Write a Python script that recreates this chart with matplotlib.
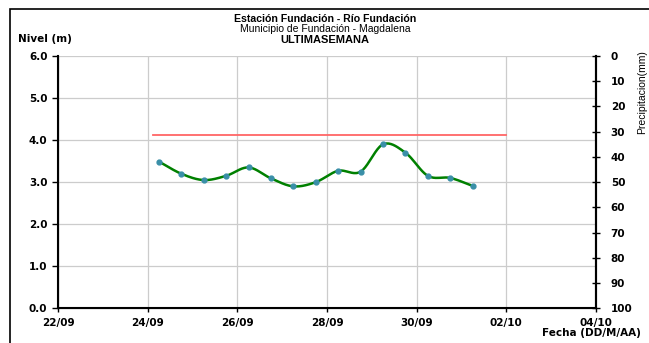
import numpy as np
import pandas as pd
import matplotlib
matplotlib.use('Agg')
import matplotlib.pyplot as plt
import matplotlib.dates as mdates
from matplotlib.patches import Rectangle

plt.rcParams['font.family'] = ['Liberation Sans', 'DejaVu Sans']

# lecturas de nivel (cada 12 h)
fechas = ['2020-09-24 06:00', '2020-09-24 18:00', '2020-09-25 06:00', '2020-09-25 18:00',
          '2020-09-26 06:00', '2020-09-26 18:00', '2020-09-27 06:00', '2020-09-27 18:00',
          '2020-09-28 06:00', '2020-09-28 18:00', '2020-09-29 06:00', '2020-09-29 18:00',
          '2020-09-30 06:00', '2020-09-30 18:00', '2020-10-01 06:00']
nivel = [3.49, 3.20, 3.05, 3.15, 3.35, 3.09, 2.90, 3.00, 3.27, 3.25, 3.90, 3.70, 3.15, 3.10, 2.91]

# nivel de alerta
alerta_fechas = ['2020-09-24 03:00', '2020-10-02 00:00']
alerta = [4.11, 4.11]

x_ticks = ['2020-09-22', '2020-09-24', '2020-09-26', '2020-09-28', '2020-09-30', '2020-10-02', '2020-10-04']
x_labels = ['22/09', '24/09', '26/09', '28/09', '30/09', '02/10', '04/10']
y_ticks = [0.0, 1.0, 2.0, 3.0, 4.0, 5.0, 6.0]
precip_ticks = [0, 10, 20, 30, 40, 50, 60, 70, 80, 90, 100]


def suavizar(x, y, n=20):
    # curva tipo Catmull-Rom, como la linea suavizada de Excel
    x = np.asarray(x, float)
    y = np.asarray(y, float)
    px = np.concatenate([[2 * x[0] - x[1]], x, [2 * x[-1] - x[-2]]])
    py = np.concatenate([[2 * y[0] - y[1]], y, [2 * y[-1] - y[-2]]])
    xs, ys = [], []
    t = np.linspace(0, 1, n, endpoint=False)
    for i in range(1, len(px) - 2):
        for p, out in ((px, xs), (py, ys)):
            p0, p1, p2, p3 = p[i - 1], p[i], p[i + 1], p[i + 2]
            out.extend(0.5 * (2 * p1 + (-p0 + p2) * t + (2 * p0 - 5 * p1 + 4 * p2 - p3) * t ** 2
                              + (-p0 + 3 * p1 - 3 * p2 + p3) * t ** 3))
    xs.append(x[-1])
    ys.append(y[-1])
    return np.array(xs), np.array(ys)


xd = mdates.date2num(pd.to_datetime(fechas))
xa = mdates.date2num(pd.to_datetime(alerta_fechas))
xt = mdates.date2num(pd.to_datetime(x_ticks))

bold = dict(family='DejaVu Sans', fontweight='bold', fontsize=7.5)

fig = plt.figure(figsize=(6.49, 3.43), dpi=100)
fig.patches.append(Rectangle((10 / 649, -0.1), 1.2, (343 - 9) / 343 + 0.1, transform=fig.transFigure,
                             fill=False, edgecolor='black', linewidth=1.2))
ax = fig.add_axes([58 / 649, (343 - 308.3) / 343, (596 - 58) / 649, (308.3 - 56) / 343])

ax.plot(xa, alerta, color='#ff6666', linewidth=1.3, zorder=3)
sx, sy = suavizar(xd, nivel)
ax.plot(sx, sy, color='#008000', linewidth=1.8, zorder=4)
ax.plot(xd, nivel, linestyle='none', marker='o', markersize=3.5, color='#3a8fa8', zorder=5)

ax.set_xlim(xt[0], xt[-1])
ax.set_ylim(0, 6)
ax.set_xticks(xt)
ax.set_xticklabels(x_labels, **bold)
ax.set_yticks(y_ticks)
ax.set_yticklabels(['%.1f' % v for v in y_ticks], **bold)
ax.grid(True, color='#cccccc', linewidth=0.9)
ax.set_axisbelow(True)
ax.tick_params(axis='x', length=3, width=1, pad=4.3)
ax.tick_params(axis='y', length=4, width=1, pad=3.6)
ax.spines['top'].set_visible(False)
ax.spines['left'].set_linewidth(1.5)
ax.spines['bottom'].set_linewidth(1.5)
ax.spines['right'].set_linewidth(1.5)

ax2 = ax.twinx()
ax2.set_ylim(100, 0)
ax2.set_yticks(precip_ticks)
ax2.set_yticklabels([str(v) for v in precip_ticks], **bold)
ax2.tick_params(axis='y', direction='inout', length=6, width=1, pad=7.6)
ax2.spines['top'].set_visible(False)
ax2.spines['right'].set_linewidth(1.5)

fig.text(325 / 649, 1 - 18.5 / 343, 'Estación Fundación - Río Fundación', ha='center', va='center',
         fontsize=7.6, fontweight='bold')
fig.text(325 / 649, 1 - 29.5 / 343, 'Municipio de Fundación - Magdalena', ha='center', va='center',
         fontsize=7.5)
fig.text(325 / 649, 1 - 40 / 343, 'ULTIMASEMANA', ha='center', va='center', fontsize=8, fontweight='bold')
fig.text(18 / 649, 1 - 39 / 343, 'Nivel (m)', ha='left', va='center', **bold)
fig.text(641 / 649, 1 - 333 / 343, 'Fecha (DD/M/AA)', ha='right', va='center', **bold)
fig.text(642 / 649, 1 - 50 / 343, 'Precipitacion(mm)', ha='center', va='top', rotation=90, fontsize=7.5)

fig.savefig('out.png', dpi=100)
